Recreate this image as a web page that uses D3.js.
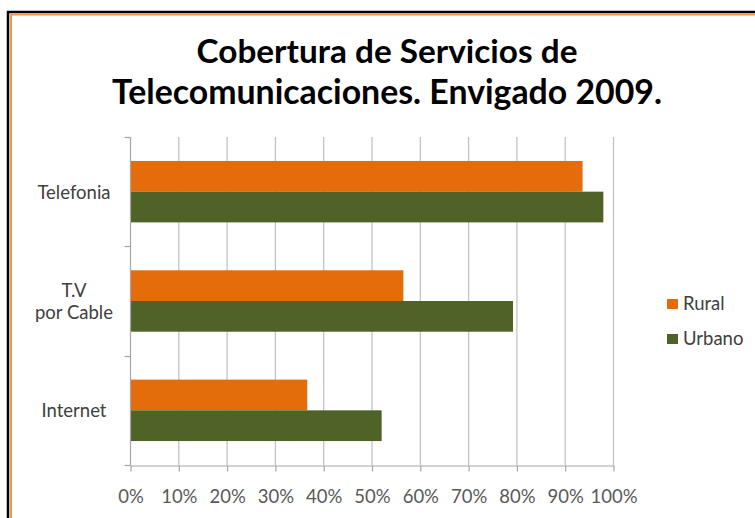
<!DOCTYPE html>
<html>
<head>
<meta charset="utf-8">
<script src="https://cdn.jsdelivr.net/npm/d3@7"></script>
<style>
  body { margin: 0; background: #fff; }
  svg { display: block; }
  text { font-family: Lato, "Open Sans", sans-serif; }
</style>
</head>
<body>
<svg id="chart" width="755" height="518"></svg>
<script>
let categories = ["Telefonia", "T.V\npor Cable", "Internet"];
let series = ["Rural", "Urbano"];
let rural = [93.7, 56.6, 36.7];
let urbano = [98.0, 79.3, 52.1];
let ticks = [0, 10, 20, 30, 40, 50, 60, 70, 80, 90, 100];
let colors = { Rural: "#E46C0A", Urbano: "#4F6228" };
let titleLines = ["Cobertura de Servicios de", "Telecomunicaciones. Envigado 2009."];

let svg = d3.select("#chart");

// frame: black outer line, orange inner line
svg.append("rect")
    .attr("x", 8).attr("y", 12)
    .attr("width", 800).attr("height", 600)
    .attr("fill", "#fff")
    .attr("stroke", "#000")
    .attr("stroke-width", 2.5);
svg.append("rect")
    .attr("x", 11).attr("y", 14.5)
    .attr("width", 800).attr("height", 600)
    .attr("fill", "none")
    .attr("stroke", "#F79646")
    .attr("stroke-width", 2);

// title, fitted to the measured widths
let titleWidths = [381, 550];
titleLines.forEach((line, i) => {
    let t = svg.append("text")
        .attr("x", 387)
        .attr("y", i == 0 ? 63 : 104)
        .attr("text-anchor", "middle")
        .attr("font-weight", "bold")
        .attr("font-size", "30px")
        .attr("fill", "#000")
        .text(line);
    let w = t.node().getComputedTextLength();
    t.attr("font-size", (30 * titleWidths[i] / w).toFixed(2) + "px");
});

let x = d3.scaleLinear().domain([0, 100]).range([130, 613]);
let y0 = d3.scaleBand().domain(categories).range([137, 465]);
let y1 = d3.scaleBand().domain(series).range([0, y0.bandwidth()]).paddingOuter(0.78);

// gridlines
svg.append("g")
    .selectAll("line")
    .data(ticks.slice(1))
    .enter()
    .append("line")
    .attr("x1", d => x(d) + 0.5)
    .attr("x2", d => x(d) + 0.5)
    .attr("y1", 137)
    .attr("y2", 465)
    .attr("stroke", "#BFBFBF")
    .attr("stroke-width", 1.2);

// bars
let rows = categories.map((c, i) => ({ cat: c, Rural: rural[i], Urbano: urbano[i] }));
let groups = svg.append("g")
    .selectAll("g")
    .data(rows)
    .enter()
    .append("g")
    .attr("transform", d => "translate(0," + y0(d.cat) + ")");

groups.selectAll("rect")
    .data(d => series.map(s => ({ s: s, v: d[s] })))
    .enter()
    .append("rect")
    .attr("x", x(0))
    .attr("y", d => y1(d.s))
    .attr("width", d => x(d.v) - x(0))
    .attr("height", y1.bandwidth())
    .attr("fill", d => colors[d.s]);

// x axis
let xAxis = svg.append("g")
    .attr("transform", "translate(0.5,465.5)")
    .call(d3.axisBottom(x).tickValues(ticks).tickFormat(d => d + "%").tickSize(6).tickSizeOuter(0));
xAxis.select(".domain").attr("stroke", "#A6A6A6").attr("stroke-width", 1.2);
xAxis.selectAll(".tick line").attr("stroke", "#A6A6A6").attr("stroke-width", 1.2);
xAxis.selectAll(".tick text")
    .attr("y", 0)
    .attr("dy", "37px")
    .attr("fill", "#595959")
    .attr("font-size", "18.5px")
    .attr("font-family", "Lato, sans-serif");

// y axis
let yAxis = svg.append("g")
    .attr("transform", "translate(130.5,0)");
yAxis.append("line")
    .attr("x1", 0).attr("x2", 0)
    .attr("y1", 137).attr("y2", 465)
    .attr("stroke", "#A6A6A6")
    .attr("stroke-width", 1.2);
let yTicks = categories.map(c => y0(c)).concat([y0.range()[1]]);
yAxis.selectAll(".ytick")
    .data(yTicks)
    .enter()
    .append("line")
    .attr("x1", -6).attr("x2", 0)
    .attr("y1", d => Math.round(d) + 0.5)
    .attr("y2", d => Math.round(d) + 0.5)
    .attr("stroke", "#A6A6A6")
    .attr("stroke-width", 1.2);

// category labels
categories.forEach(c => {
    let parts = c.split("\n");
    let mid = y0(c) + y0.bandwidth() / 2;
    let t = svg.append("text")
        .attr("text-anchor", "middle")
        .attr("fill", "#404040")
        .attr("font-size", "18.5px");
    parts.forEach((p, j) => {
        t.append("tspan")
            .attr("x", 74)
            .attr("y", mid + 7 + (j - (parts.length - 1) / 2) * 22)
            .text(p);
    });
});

// legend
let legend = svg.append("g")
    .selectAll("g")
    .data(series)
    .enter()
    .append("g")
    .attr("transform", (d, i) => "translate(667," + (299 + i * 35) + ")");
legend.append("rect")
    .attr("width", 11)
    .attr("height", 10)
    .attr("fill", d => colors[d]);
legend.append("text")
    .attr("x", 16)
    .attr("y", 11)
    .attr("fill", "#404040")
    .attr("font-size", "18.5px")
    .text(d => d);
</script>
</body>
</html>
